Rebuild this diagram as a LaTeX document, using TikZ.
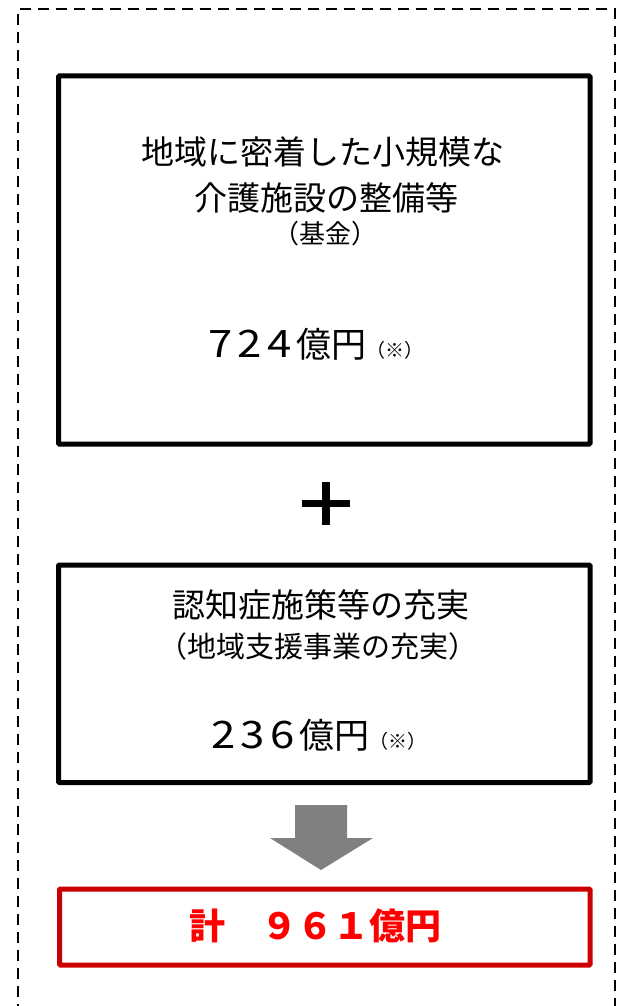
\documentclass[tikz,border=0pt]{standalone}
\usepackage{fontspec}
\usepackage{graphicx}
\setmainfont{Noto Sans CJK JP}
\newfontfamily\cjk{Noto Sans CJK JP}
\newcommand{\wdig}[1]{\scalebox{1.25}[1.08]{#1}\hspace{5pt}}
\begin{document}
\begin{tikzpicture}[x=1pt,y=-1pt,
  box/.style={draw=black,line width=5pt,rounded corners=1pt,inner sep=0,anchor=north west},
  big/.style={font=\cjk\fontsize{33}{38}\selectfont,inner sep=0},
  mid/.style={font=\cjk\fontsize{29}{34}\selectfont,inner sep=0},
  amt/.style={font=\cjk\fontsize{35}{40}\selectfont,inner sep=0}]
\useasboundingbox (0,0) rectangle (624,1006);
\begin{scope}
\clip (0,0) rectangle (624,1006);
\draw[line width=2.5pt,dash pattern=on 11pt off 7pt] (18,1015) -- (18,9) -- (615,9) -- (615,1015);
\end{scope}
% box 1
\node[box,minimum width=531.5pt,minimum height=368pt] (b1) at (56,73.5) {};
\node[big] (t1) at (323,152) {地域に密着した小規模な};
\node[big] (t2) at (326,198) {介護施設の整備等};
\node[mid,font=\cjk\fontsize{26}{30}\selectfont] (t3) at (325,234) {（基金）};
\node[amt,anchor=base] (t4) at (316,357) {\wdig{7}\wdig{2}\wdig{4}億円{\fontsize{19}{20}\selectfont（※）}};
% plus
\coordinate (pc) at (326,503.5);
\draw[line width=7pt] ([xshift=-24pt]pc) -- ([xshift=24pt]pc);
\draw[line width=7.5pt] (326,482) -- (326,525);
% box 2
\node[box,minimum width=531.5pt,minimum height=217.5pt] (b2) at (56,562.5) {};
\node[big] (u1) at (321,605) {認知症施策等の充実};
\node[mid] (u2) at (318,646) {（地域支援事業の充実）};
\node[amt,anchor=base] (u3) at (319,748) {\wdig{2}\wdig{3}\wdig{6}億円{\fontsize{19}{20}\selectfont（※）}};
% arrow
\fill[fill=black!50] (295,805) -- (347,805) -- (347,838) -- (373,838) -- (321,870) -- (270,838) -- (295,838) -- cycle;
% total box
\node[box,draw={rgb,255:red,204;green,0;blue,0},minimum width=530.5pt,minimum height=76pt] (b3) at (57,886.5) {};
\node[text={rgb,255:red,255;green,0;blue,0},font=\cjk\bfseries\fontsize{36}{40}\selectfont,inner sep=0] (tot) at (315,926) {計　９６１億円};
\end{tikzpicture}
\end{document}
